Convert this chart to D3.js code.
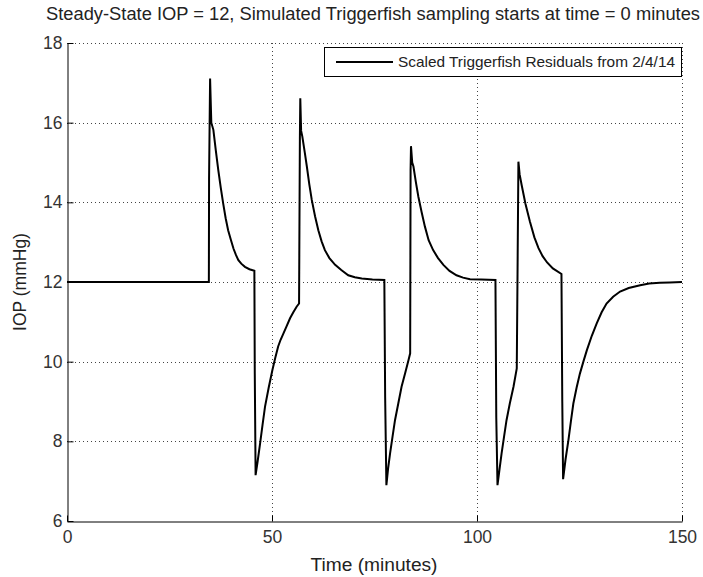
<!DOCTYPE html>
<html><head><meta charset="utf-8">
<script src="https://cdn.jsdelivr.net/npm/d3@7"></script>
<style>body{margin:0;background:#fff;}svg{display:block;font-family:"Liberation Sans",Arial,sans-serif;}</style>
</head><body>
<script>
const titleText = "Steady-State IOP = 12, Simulated Triggerfish sampling starts at time = 0 minutes";
const xLabel = "Time (minutes)";
const yLabel = "IOP (mmHg)";
const legendLabel = "Scaled Triggerfish Residuals from 2/4/14";
const xTicks = [0, 50, 100, 150];
const yTicks = [6, 8, 10, 12, 14, 16, 18];
const timeMin = [0, 34.6, 34.65, 34.9, 35.2, 35.7, 36.3, 36.9, 37.5, 38.1, 38.7, 39.3, 40.0, 40.6, 41.2, 41.8, 42.5, 43.4, 44.5, 45.7,
  45.8, 46.0, 46.5, 47.1, 47.7, 48.3, 49.2, 50.1, 50.8, 51.5, 52.1, 52.8, 53.6, 54.4, 55.2, 56.0, 56.6,
  56.8, 56.9, 57.1, 57.4, 58.0, 58.5, 59.1, 59.7, 60.5, 61.3, 62.1, 62.9, 64.0, 65.4, 66.9, 68.6, 70.2, 71.9, 74.5, 77.4,
  77.6, 77.9, 78.3, 78.8, 79.4, 80.0, 80.8, 81.6, 82.5, 83.3, 83.7,
  83.8, 83.9, 84.2, 84.5, 85.1, 85.7, 86.5, 87.3, 88.2, 89.3, 90.5, 91.8, 93.3, 95.0, 96.6, 98.3, 101.0, 104.5,
  104.7, 105.0, 105.5, 106.0, 106.6, 107.2, 108.0, 108.9, 109.7,
  109.9, 110.1, 110.4, 110.9, 111.8, 112.9, 114.0, 115.0, 116.0, 117.1, 118.5, 120.6,
  120.8, 121.0, 121.6, 122.3, 122.9, 123.5, 124.3, 125.1, 126.0, 126.8, 128.0, 129.2, 130.4, 131.6, 133.2, 134.9, 137.0, 139.8, 142.0, 144.6, 147.0, 150];
const iopValues = [12, 12, 14.6, 17.11, 16.0, 15.82, 15.3, 14.81, 14.37, 13.97, 13.6, 13.3, 13.05, 12.84, 12.68, 12.55, 12.46, 12.38, 12.32, 12.28,
  9.7, 7.15, 7.5, 7.95, 8.42, 8.87, 9.35, 9.79, 10.1, 10.38, 10.55, 10.71, 10.9, 11.09, 11.24, 11.38, 11.46,
  15.6, 16.61, 15.8, 15.65, 15.25, 14.9, 14.45, 14.06, 13.65, 13.3, 13.02, 12.8, 12.6, 12.43, 12.3, 12.17, 12.12, 12.09, 12.06, 12.05,
  9.1, 6.9, 7.3, 7.7, 8.12, 8.53, 8.95, 9.37, 9.72, 10.04, 10.21,
  14.8, 15.41, 15.0, 14.9, 14.5, 14.14, 13.75, 13.39, 13.05, 12.8, 12.6, 12.43, 12.28, 12.17, 12.11, 12.07, 12.06, 12.05,
  8.6, 6.9, 7.3, 7.7, 8.12, 8.53, 8.95, 9.37, 9.83,
  12.4, 15.02, 14.7, 14.43, 13.97, 13.52, 13.12, 12.85, 12.65, 12.49, 12.34, 12.2,
  9.0, 7.05, 7.55, 8.03, 8.5, 8.95, 9.35, 9.7, 10.02, 10.29, 10.65, 10.96, 11.24, 11.46, 11.63, 11.76, 11.85, 11.92, 11.96, 11.98, 11.99, 12.0];

const W = 703, H = 577;
const m = {left: 67, right: 682, top: 43, bottom: 521};
const svg = d3.select("body").append("svg").attr("width", W).attr("height", H);
const x = d3.scaleLinear().domain([0, 150]).range([m.left, m.right]);
const y = d3.scaleLinear().domain([6, 18]).range([m.bottom, m.top]);

// grid
const grid = svg.append("g").attr("stroke", "#444").attr("stroke-width", 1).attr("stroke-dasharray", "1,3");
grid.selectAll("line.gx").data(xTicks.filter(d => d > 0)).join("line")
  .attr("x1", d => Math.round(x(d)) + 0.5).attr("x2", d => Math.round(x(d)) + 0.5)
  .attr("y1", m.top).attr("y2", m.bottom);
grid.selectAll("line.gy").data(yTicks.filter(d => d > 6)).join("line")
  .attr("y1", d => Math.round(y(d)) + 0.5).attr("y2", d => Math.round(y(d)) + 0.5)
  .attr("x1", m.left).attr("x2", m.right);

// axes
const xAxis = d3.axisBottom(x).tickValues(xTicks).tickSizeInner(-6).tickSizeOuter(0).tickPadding(9).tickFormat(d3.format("d"));
const yAxis = d3.axisLeft(y).tickValues(yTicks).tickSizeInner(-6).tickSizeOuter(0).tickPadding(5).tickFormat(d3.format("d"));
const gx = svg.append("g").attr("transform", `translate(0,${m.bottom + 0.5})`).call(xAxis);
const gy = svg.append("g").attr("transform", `translate(${m.left + 0.5},0)`).call(yAxis);
[gx, gy].forEach(g => {
  g.select(".domain").attr("stroke", "#000");
  g.selectAll(".tick line").attr("stroke", "#000");
  g.selectAll(".tick text").attr("fill", "#333").attr("font-size", 17.5).attr("font-family", "Liberation Sans, Arial, sans-serif");
});

// line
const line = d3.line().x((d, i) => x(timeMin[i])).y(d => y(d));
svg.append("path").datum(iopValues).attr("d", line)
  .attr("fill", "none").attr("stroke", "#000").attr("stroke-width", 2).attr("stroke-linejoin", "miter");

// title and labels
svg.append("text").attr("x", 373).attr("y", 20).attr("text-anchor", "middle")
  .attr("font-size", 17.5).attr("fill", "#222").attr("textLength", 654).attr("lengthAdjust", "spacingAndGlyphs").text(titleText);
svg.append("text").attr("x", 374).attr("y", 571).attr("text-anchor", "middle")
  .attr("font-size", 17.5).attr("fill", "#222").attr("textLength", 127).attr("lengthAdjust", "spacingAndGlyphs").text(xLabel);
svg.append("text").attr("transform", `translate(26,${(m.top + m.bottom) / 2}) rotate(-90)`).attr("text-anchor", "middle")
  .attr("font-size", 17.5).attr("fill", "#222").text(yLabel);

// legend
const lg = svg.append("g");
lg.append("rect").attr("x", 324.5).attr("y", 47.5).attr("width", 357).attr("height", 29)
  .attr("fill", "#fff").attr("stroke", "#000").attr("stroke-width", 1);
lg.append("line").attr("x1", 336).attr("x2", 393).attr("y1", 62).attr("y2", 62).attr("stroke", "#000").attr("stroke-width", 2);
lg.append("text").attr("x", 398).attr("y", 67).attr("font-size", 15).attr("fill", "#222")
  .attr("textLength", 277).attr("lengthAdjust", "spacingAndGlyphs").text(legendLabel);
</script>
</body></html>
